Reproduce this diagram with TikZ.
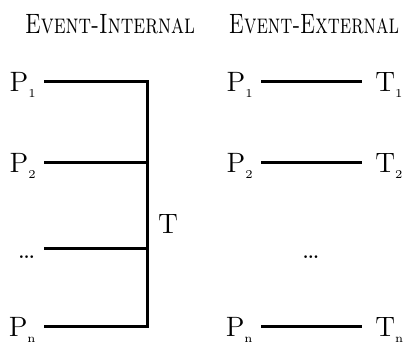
\documentclass[tikz,border=0pt]{standalone}
\usetikzlibrary{calc}
\newcommand{\lowsub}[1]{\raisebox{-0.5ex}[0pt][0pt]{\fontsize{6}{6}\selectfont #1}}
\newcommand{\headtext}[1]{\resizebox{85pt}{\height}{\textsc{#1}}}
\tikzset{
  lab/.style={inner sep=0pt, font=\fontsize{14}{16}\selectfont},
  pnode/.style={lab, inner xsep=4pt, anchor=east},
  tnode/.style={lab, inner xsep=6.5pt, anchor=west},
  title/.style={lab},
  wire/.style={line width=1.5pt, line join=miter},
}
\begin{document}
\begin{tikzpicture}[x=0.5pt, y=-0.5pt]
\useasboundingbox (0,0) rectangle (408,342);

% headings
\node[title] (h1) at (110,24) {\headtext{Event-Internal}};
\node[title] (h2) at (314,24) {\headtext{Event-External}};

% internal: all processes share one target
\node[pnode] (lp1) at (44,82)  {P\lowsub{1}};
\node[pnode] (lp2) at (44,163) {P\lowsub{2}};
\node[pnode] (ld)  at (44,249) {\vphantom{P}\dots};
\node[pnode] (lpn) at (44,327) {P\lowsub{n}};
\coordinate (top) at (147,82);
\coordinate (bot) at (147,327);
\node[lab] (tt) at (168,224) {T};

\draw[wire] (lp1.east) -- (top) -- (bot) -- (lpn.east);
\draw[wire] (lp2.east) -- (lp2.east -| top);
\draw[wire] (ld.east) -- (ld.east -| top);

% external: one target per process
\node[pnode] (rp1) at (261,82)  {P\lowsub{1}};
\node[pnode] (rp2) at (261,163) {P\lowsub{2}};
\node[lab]   (rd)  at (311,249) {\vphantom{P}\dots};
\node[pnode] (rpn) at (261,327) {P\lowsub{n}};
\node[tnode] (rt1) at (362,82)  {T\lowsub{1}};
\node[tnode] (rt2) at (362,163) {T\lowsub{2}};
\node[tnode] (rtn) at (362,327) {T\lowsub{n}};

\draw[wire] (rp1.east) -- (rt1.west);
\draw[wire] (rp2.east) -- (rt2.west);
\draw[wire] (rpn.east) -- (rtn.west);
\end{tikzpicture}
\end{document}
